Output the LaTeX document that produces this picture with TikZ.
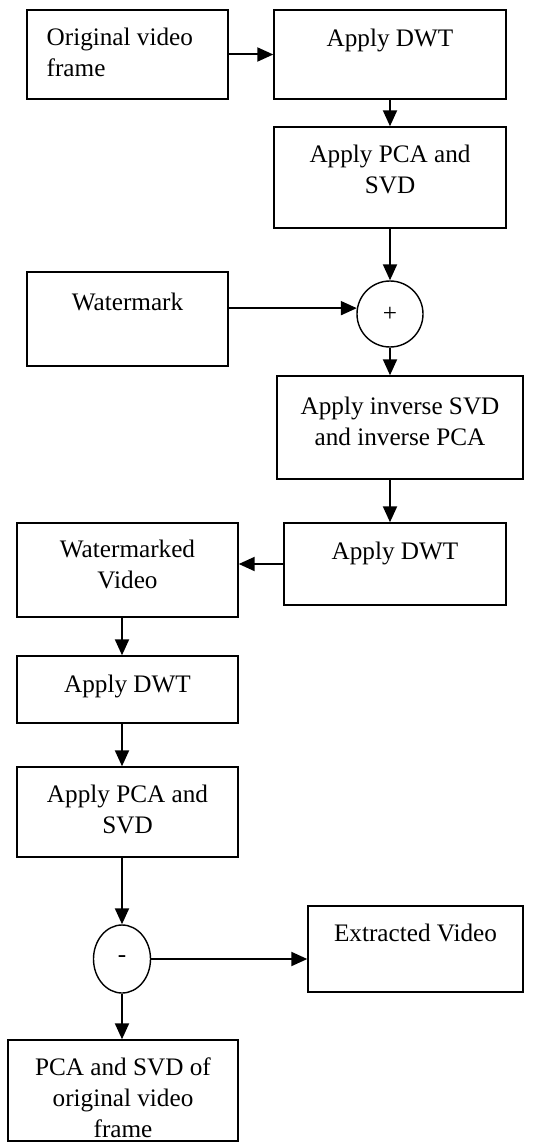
\documentclass[tikz,border=0pt]{standalone}
\usepackage{fontspec}
\setmainfont{Liberation Serif}
\usetikzlibrary{arrows.meta,positioning,shapes.geometric}

\begin{document}
\begin{tikzpicture}[x=0.5pt,y=-0.5pt,>={Triangle[length=8pt,width=7pt]},
    block/.style={draw,line width=0.7pt,inner sep=0pt},
    boxsize/.style 2 args={minimum width=#1*0.5pt,minimum height=#2*0.5pt},
    txt/.style={inner sep=0pt,align=center,font=\fontsize{12.6}{15.5}\selectfont},
    flow/.style={->,line width=1pt}]
    \useasboundingbox (0,0) rectangle (540,1144);

    % embedding
    \node[block,boxsize={201}{89}] (orig) at (127.5,54.5) {};
    \node[block,boxsize={232}{89}] (dwt1) at (390,54.5) {};
    \node[block,boxsize={232}{101}] (pca1) at (390,177.5) {};
    \node[block,circle,minimum size=33pt,txt] (sum) at (390,314) {+};
    \node[block,boxsize={201}{94}] (wm) at (127.5,319) {};
    \node[block,boxsize={246}{103}] (inv) at (400,427.5) {};
    \node[block,boxsize={222}{82}] (dwt2) at (395,564) {};
    \node[block,boxsize={221}{94}] (wmv) at (127.5,570) {};

    % extraction
    \node[block,boxsize={221}{67}] (dwt3) at (127.5,689.5) {};
    \node[block,boxsize={221}{90}] (pca2) at (127.5,812) {};
    \node[block,ellipse,boxsize={57}{68},txt] (diff) at (122,959) {-};
    \node[block,boxsize={215}{86}] (ext) at (415.5,949) {};
    \node[block,boxsize={230}{101}] (pcaorig) at (123,1090.5) {};

    % labels
    \node[txt,align=left,below right=9pt and 10pt of orig.north west] {Original video\\frame};
    \node[txt,below=9.5pt of dwt1.north] {Apply DWT};
    \node[txt,below=9pt of pca1.north] {Apply PCA and\\SVD};
    \node[txt,below=10.5pt of wm.north] {Watermark};
    \node[txt,below=10.5pt of inv.north] {Apply inverse SVD\\and inverse PCA};
    \node[txt,below=9.5pt of dwt2.north] {Apply DWT};
    \node[txt,below=8.5pt of wmv.north] {Watermarked\\Video};
    \node[txt,below=9.5pt of dwt3.north] {Apply DWT};
    \node[txt,below=9pt of pca2.north] {Apply PCA and\\SVD};
    \node[txt,below=9pt of ext.north] {Extracted Video};
    \node[txt,below=9pt of pcaorig.north] {PCA and SVD of\\original video\\frame};

    % connectors
    \draw[flow] (orig) -- (dwt1);
    \draw[flow] (dwt1) -- (pca1);
    \draw[flow] (pca1) -- (sum);
    \draw[flow] (wm.east |- sum.170) -- (sum.170);
    \draw[flow] (sum) -- (sum |- inv.north);
    \draw[flow] (inv.south -| sum) -- (sum |- dwt2.north);
    \draw[flow] (dwt2.west) -- (dwt2.west -| wmv.east);
    \draw[flow] (wmv.south -| diff) -- (dwt3.north -| diff);
    \draw[flow] (dwt3.south -| diff) -- (pca2.north -| diff);
    \draw[flow] (pca2.south -| diff) -- (diff);
    \draw[flow] (diff) -- (ext.west |- diff);
    \draw[flow] (diff) -- (diff |- pcaorig.north);
\end{tikzpicture}
\end{document}
